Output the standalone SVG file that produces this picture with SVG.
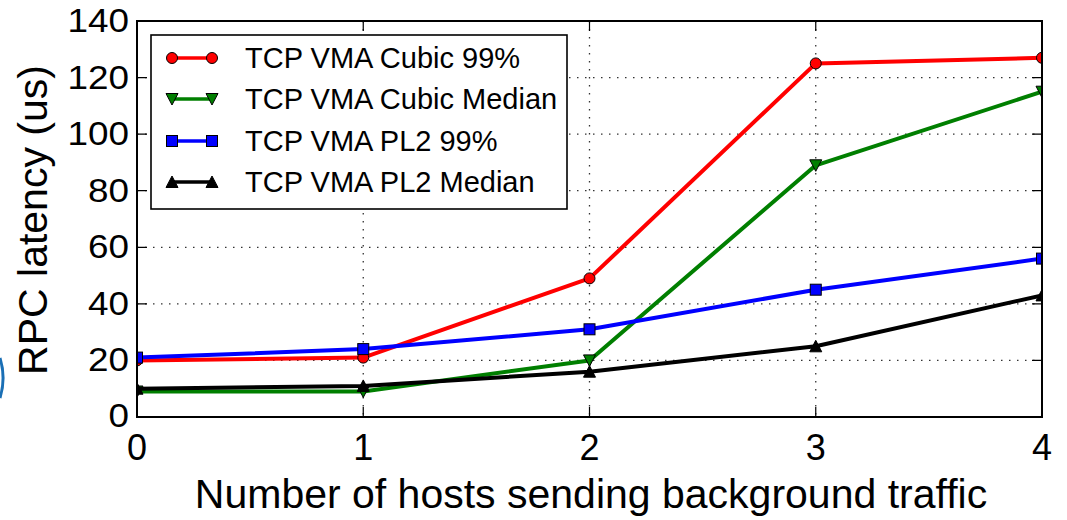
<svg xmlns="http://www.w3.org/2000/svg" xmlns:xlink="http://www.w3.org/1999/xlink" width="1067" height="520" viewBox="0 0 1067 520">
<style>
text{font-family:"Liberation Sans",Arial,Helvetica,sans-serif;fill:#000}
.tick{font-size:36px}
.ytk{font-size:33px}
.title{font-size:41px}
.leg{font-size:29px}
.grid{stroke:#333;stroke-width:1.3;stroke-dasharray:1.5,6.5;fill:none}
.tk{stroke:#000;stroke-width:1.2}
.ln{fill:none;stroke-width:4;stroke-linejoin:round;stroke-linecap:butt}
.lg{fill:none;stroke-width:3.5}
.mk{stroke:#000;stroke-width:1}
</style>
<defs>
<clipPath id="ax"><rect x="137" y="21" width="905" height="396"/></clipPath>
<circle id="mc" r="5.5" fill="#ff0000" class="mk"/>
<path id="mv" d="M-6,-5.5 L6,-5.5 L0,6 Z" fill="#007f00" class="mk"/>
<rect id="ms" x="-5.5" y="-5.5" width="11" height="11" fill="#0000ff" class="mk"/>
<path id="mt" d="M-6,5.5 L6,5.5 L0,-6 Z" fill="#000" class="mk"/>
</defs>
<rect width="1067" height="520" fill="#fff"/>
<path d="M0,358 A68,68 0 0 1 0,398" fill="none" stroke="#1a6fb5" stroke-width="3"/>
<g id="grid">
<path class="grid" d="M137,360.4H1042M137,303.9H1042M137,247.3H1042M137,190.7H1042M137,134.1H1042M137,77.6H1042M363.25,21V417M589.5,21V417M815.75,21V417"/>
<path class="tk" d="M137,360.4h10M137,303.9h10M137,247.3h10M137,190.7h10M137,134.1h10M137,77.6h10M1042,360.4h-10M1042,303.9h-10M1042,247.3h-10M1042,190.7h-10M1042,134.1h-10M1042,77.6h-10M363.25,417v-10M589.5,417v-10M815.75,417v-10M363.25,21v10M589.5,21v10M815.75,21v10"/>
</g>
<g id="connectors" clip-path="url(#ax)">
<g id="series-cubic-99">
<polyline class="ln" stroke="#ff0000" points="137,360.4 363.25,357.6 589.5,278.4 815.75,63.4 1042,57.8"/>
<use xlink:href="#mc" x="137" y="360.4"/><use xlink:href="#mc" x="363.25" y="357.6"/><use xlink:href="#mc" x="589.5" y="278.4"/><use xlink:href="#mc" x="815.75" y="63.4"/><use xlink:href="#mc" x="1042" y="57.8"/>
</g>
<g id="series-cubic-median">
<polyline class="ln" stroke="#007f00" points="137,391.5 363.25,391.5 589.5,360.4 815.75,165.3 1042,91.7"/>
<use xlink:href="#mv" x="137" y="391.5"/><use xlink:href="#mv" x="363.25" y="391.5"/><use xlink:href="#mv" x="589.5" y="360.4"/><use xlink:href="#mv" x="815.75" y="165.3"/><use xlink:href="#mv" x="1042" y="91.7"/>
</g>
<g id="series-pl2-99">
<polyline class="ln" stroke="#0000ff" points="137,357.6 363.25,349.1 589.5,329.3 815.75,289.7 1042,258.6"/>
<use xlink:href="#ms" x="137" y="357.6"/><use xlink:href="#ms" x="363.25" y="349.1"/><use xlink:href="#ms" x="589.5" y="329.3"/><use xlink:href="#ms" x="815.75" y="289.7"/><use xlink:href="#ms" x="1042" y="258.6"/>
</g>
<g id="series-pl2-median">
<polyline class="ln" stroke="#000" points="137,388.7 363.25,385.9 589.5,371.7 815.75,346.3 1042,295.4"/>
<use xlink:href="#mt" x="137" y="388.7"/><use xlink:href="#mt" x="363.25" y="385.9"/><use xlink:href="#mt" x="589.5" y="371.7"/><use xlink:href="#mt" x="815.75" y="346.3"/><use xlink:href="#mt" x="1042" y="295.4"/>
</g>
</g>
<g id="frame">
<rect x="137" y="21" width="905" height="396" fill="none" stroke="#000" stroke-width="2"/>
</g>
<g id="yticks" class="ytk" text-anchor="end">
<text x="129" y="427" textLength="20.5" lengthAdjust="spacingAndGlyphs">0</text>
<text x="129" y="371" textLength="41" lengthAdjust="spacingAndGlyphs">20</text>
<text x="129" y="314.5" textLength="41" lengthAdjust="spacingAndGlyphs">40</text>
<text x="129" y="258" textLength="41" lengthAdjust="spacingAndGlyphs">60</text>
<text x="129" y="201.5" textLength="41" lengthAdjust="spacingAndGlyphs">80</text>
<text x="129" y="145" textLength="61.5" lengthAdjust="spacingAndGlyphs">100</text>
<text x="129" y="88.5" textLength="61.5" lengthAdjust="spacingAndGlyphs">120</text>
<text x="129" y="32" textLength="61.5" lengthAdjust="spacingAndGlyphs">140</text>
</g>
<g id="xticks" class="tick" text-anchor="middle">
<text x="137" y="460">0</text>
<text x="363.25" y="460">1</text>
<text x="589.5" y="460">2</text>
<text x="815.75" y="460">3</text>
<text x="1042" y="460">4</text>
</g>
<text id="xtitle" class="title" x="591" y="508" text-anchor="middle">Number of hosts sending background traffic</text>
<text id="ytitle" class="title" transform="translate(47,220) rotate(-90)" text-anchor="middle">RPC latency (us)</text>
<g id="legend">
<rect x="151" y="35" width="416" height="174" fill="#fff" stroke="#000" stroke-width="1.6"/>
<line class="lg" stroke="#ff0000" x1="172" y1="58" x2="212" y2="58"/>
<use xlink:href="#mc" x="172" y="58"/><use xlink:href="#mc" x="212" y="58"/>
<text class="leg" x="245" y="68">TCP VMA Cubic 99%</text>
<line class="lg" stroke="#007f00" x1="172" y1="99" x2="212" y2="99"/>
<use xlink:href="#mv" x="172" y="99"/><use xlink:href="#mv" x="212" y="99"/>
<text class="leg" x="245" y="109">TCP VMA Cubic Median</text>
<line class="lg" stroke="#0000ff" x1="172" y1="141" x2="212" y2="141"/>
<use xlink:href="#ms" x="172" y="141"/><use xlink:href="#ms" x="212" y="141"/>
<text class="leg" x="245" y="151">TCP VMA PL2 99%</text>
<line class="lg" stroke="#000" x1="172" y1="182" x2="212" y2="182"/>
<use xlink:href="#mt" x="172" y="182"/><use xlink:href="#mt" x="212" y="182"/>
<text class="leg" x="245" y="192">TCP VMA PL2 Median</text>
</g>
</svg>
